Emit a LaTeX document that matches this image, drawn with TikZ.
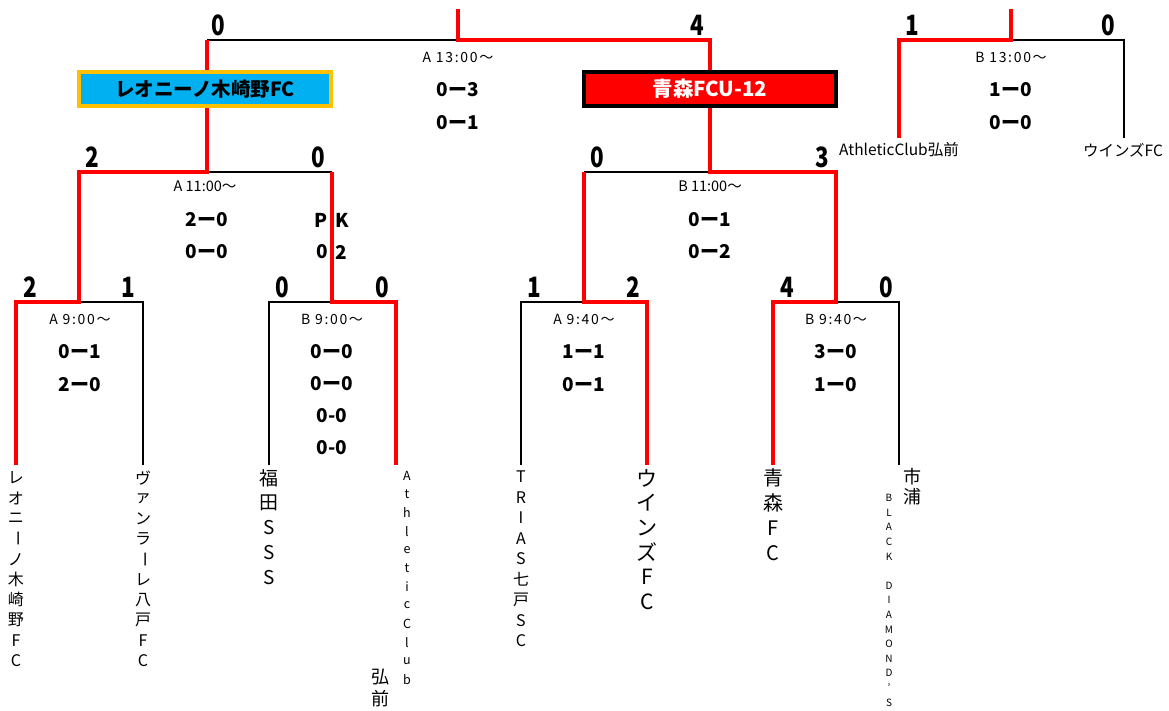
\documentclass[tikz,border=0pt]{standalone}
\usepackage{fontspec}
\usepackage{graphicx}
\setmainfont{Noto Sans CJK JP}
\newfontfamily\tfont[LetterSpace=12]{Noto Sans CJK JP}
\definecolor{wred}{HTML}{FF0000}
\definecolor{lcyan}{HTML}{00B0F0}
\definecolor{lorange}{HTML}{FFC000}
\newcommand\vbar{\rotatebox[origin=c]{-90}{ー}}
\newcommand\hs[1]{\scalebox{0.8}[1]{#1}}
\newcommand\vtextcol[6]{%
  \foreach \c [count=\i] in {#6} {
    \node[inner sep=0pt, font=\fontsize{#5}{#5}\selectfont] (#1\i) at (#2, {#3+#4*(\i-1)}) {\c};
  }}
\tikzset{
  win/.style={draw=wred, line width=4.6pt},
  lose/.style={draw=black, line width=1.6pt},
  hscore/.style={font=\fontsize{28}{28}\selectfont\bfseries, inner sep=0pt},
  mscore/.style={font=\fontsize{19}{19}\selectfont\bfseries, inner sep=0pt},
  tlabel/.style={font=\tfont\fontsize{14}{14}\selectfont, inner sep=0pt},
  tlabeln/.style={font=\fontsize{14.5}{14.5}\selectfont, inner sep=0pt},
  tname/.style={font=\fontsize{15.5}{15.5}\selectfont, inner sep=0pt},
}
\begin{document}
\begin{tikzpicture}[x=1pt,y=-1pt]
\useasboundingbox (0,0) rectangle (1169,711);
% ---- coordinates
\coordinate (a1b) at (16,465); \coordinate (a1l) at (16,302); \coordinate (a1m) at (79,302);
\coordinate (a1r) at (143,302); \coordinate (a1rb) at (143,465);
\coordinate (b1lb) at (269,465); \coordinate (b1l) at (269,302); \coordinate (b1m) at (332,302);
\coordinate (b1r) at (396,302); \coordinate (b1rb) at (396,465);
\coordinate (a2lb) at (521,465); \coordinate (a2l) at (521,302); \coordinate (a2m) at (584,302);
\coordinate (a2r) at (647,302); \coordinate (a2rb) at (647,465);
\coordinate (b2lb) at (773,465); \coordinate (b2l) at (773,302); \coordinate (b2m) at (836,302);
\coordinate (b2r) at (899,302); \coordinate (b2rb) at (899,465);
\coordinate (s1l) at (79,172); \coordinate (s1m) at (207,172); \coordinate (s1r) at (332,172);
\coordinate (s2l) at (584,172); \coordinate (s2m) at (710,172); \coordinate (s2r) at (836,172);
\coordinate (f1) at (207,40); \coordinate (fm) at (458,40); \coordinate (ftop) at (458,9); \coordinate (f2) at (710,40);
\coordinate (t1b) at (899,138); \coordinate (t1) at (899,40); \coordinate (tm) at (1011,40);
\coordinate (ttop) at (1011,9); \coordinate (t2) at (1124,40); \coordinate (t2b) at (1124,138);
% ---- losing lines
\draw[lose] (a1m) -- (a1r) -- (a1rb);
\draw[lose] (b1lb) -- (b1l) -- (b1m);
\draw[lose] (s1m) -- (s1r);
\draw[lose] (f1) -- (fm);
\draw[lose] (a2lb) -- (a2l) -- (a2m);
\draw[lose] (s2l) -- (s2m);
\draw[lose] (b2m) -- (b2r) -- (b2rb);
\draw[lose] (tm) -- (t2) -- (t2b);
% ---- winning lines
\draw[win] (a1b) -- (a1l) -- (a1m) -- (s1l) -- (s1m) -- (f1);
\draw[win] (b1rb) -- (b1r) -- (b1m) -- (s1r);
\draw[win] (a2rb) -- (a2r) -- (a2m) -- (s2l);
\draw[win] (b2lb) -- (b2l) -- (b2m) -- (s2r) -- (s2m) -- (f2) -- (fm) -- (ftop);
\draw[win] (t1b) -- (t1) -- (tm) -- (ttop);
% ---- champion boxes
\node[draw=lorange, line width=4.5pt, fill=lcyan, minimum width=252pt, minimum height=34pt,
  inner sep=0pt, font=\fontsize{19.5}{19.5}\selectfont\bfseries] (leobox) at (205,89) {レオニーノ木崎野FC};
\node[draw=black, line width=4.5pt, fill=wred, minimum width=252pt, minimum height=34pt,
  inner sep=0pt, text=white, font=\fontsize{20.5}{20.5}\selectfont\bfseries] (aombox) at (710,89) {青森FCU-12};
% ---- big scores
\node[hscore] (sf1) at (218,25) {\hs{0}};
\node[hscore] (sf2) at (697,25) {\hs{4}};
\node[hscore] (st1) at (912,25) {\hs{1}};
\node[hscore] (st2) at (1108,25) {\hs{0}};
\node[hscore] (ss1) at (92,157) {\hs{2}};
\node[hscore] (ss2) at (318,157) {\hs{0}};
\node[hscore] (ss3) at (597,157) {\hs{0}};
\node[hscore] (ss4) at (822,157) {\hs{3}};
\node[hscore] (sr1) at (30,287) {\hs{2}};
\node[hscore] (sr2) at (128,287) {\hs{1}};
\node[hscore] (sr3) at (282,287) {\hs{0}};
\node[hscore] (sr4) at (382,287) {\hs{0}};
\node[hscore] (sr5) at (534,287) {\hs{1}};
\node[hscore] (sr6) at (633,287) {\hs{2}};
\node[hscore] (sr7) at (787,287) {\hs{4}};
\node[hscore] (sr8) at (886,287) {\hs{0}};
% ---- final
\node[tlabel] (tf) at (458,57) {A 13:00～};
\node[mscore] (f1a) at (458,90) {0ー3};
\node[mscore] (f1b) at (458,123) {0ー1};
% ---- 3rd place
\node[tlabel] (tt) at (1011,57) {B 13:00～};
\node[mscore] (t1a) at (1011,90) {1ー0};
\node[mscore] (t1bb) at (1011,123) {0ー0};
\node[tname] (tn1) at (899,150) {AthleticClub弘前};
\node[tname] (tn2) at (1123,150) {ウインズFC};
% ---- semis
\node[tlabeln] (ts1) at (205,186) {A 11:00～};
\node[mscore] (s1a) at (207,220) {2ー0};
\node[mscore] (s1b) at (207,252) {0ー0};
\node[mscore] (pk1) at (321,220) {P};
\node[mscore] (pk2) at (342,220) {K};
\node[mscore] (pk3) at (322,252) {0};
\node[mscore] (pk4) at (341,252) {2};
\node[tlabeln] (ts2) at (710,186) {B 11:00～};
\node[mscore] (s2a) at (710,220) {0ー1};
\node[mscore] (s2b) at (710,252) {0ー2};
% ---- round 1
\node[tlabel] (r1t) at (80,319) {A 9:00～};
\node[mscore] (r1a) at (80,352) {0ー1};
\node[mscore] (r1b) at (80,385) {2ー0};
\node[tlabel] (r2t) at (332,319) {B 9:00～};
\node[mscore] (r2a) at (332,352) {0ー0};
\node[mscore] (r2b) at (332,384) {0ー0};
\node[mscore] (r2c) at (332,416) {0-0};
\node[mscore] (r2d) at (332,448) {0-0};
\node[tlabel] (r3t) at (584,319) {A 9:40～};
\node[mscore] (r3a) at (584,352) {1ー1};
\node[mscore] (r3b) at (584,385) {0ー1};
\node[tlabel] (r4t) at (836,319) {B 9:40～};
\node[mscore] (r4a) at (836,352) {3ー0};
\node[mscore] (r4b) at (836,385) {1ー0};
% ---- vertical team names
\vtextcol{leo}{16}{478}{20.3}{16}{レ,オ,ニ,\vbar,ノ,木,崎,野,F,C}
\vtextcol{van}{143}{478}{20.3}{16}{ヴ,ァ,ン,ラ,\vbar,レ,八,戸,F,C}
\vtextcol{fuk}{269}{478}{24.8}{19}{福,田,S,S,S}
\vtextcol{ath}{407}{476}{18.5}{12.5}{A,t,h,l,e,t,i,c,C,l,u,b}
\vtextcol{hir}{380}{677}{22}{18}{弘,前}
\vtextcol{tri}{521}{477}{20.5}{16}{T,R,I,A,S,七,戸,S,C}
\vtextcol{wnd}{647}{478}{24.8}{21}{ウ,イ,ン,ズ,F,C}
\vtextcol{aom}{773}{478}{25}{20}{青,森,F,C}
\vtextcol{ich}{912}{477}{20}{18}{市,浦}
\vtextcol{bla}{889}{498}{14.6}{10}{B,L,A,C,K,{},D,I,A,M,O,N,D,',S}
\end{tikzpicture}
\end{document}
